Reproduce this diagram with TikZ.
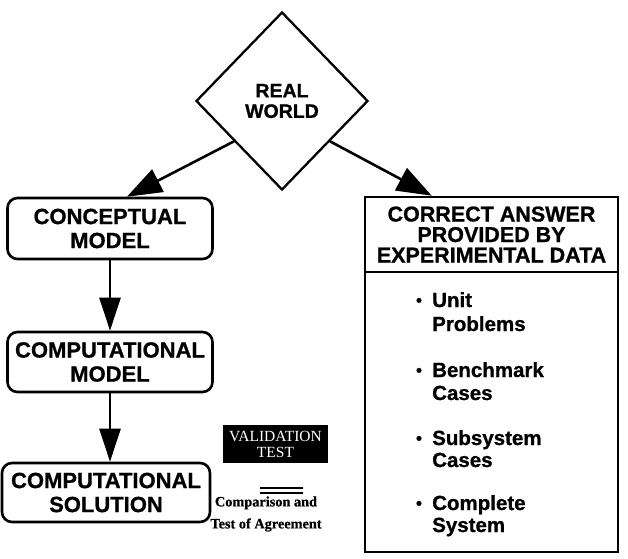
\documentclass[tikz,border=0pt]{standalone}
\usepackage{fontspec}
\setmainfont{Liberation Serif}[BoldFeatures={FakeBold=0.6}]
\setsansfont{Liberation Sans}[BoldFeatures={FakeBold=0.9}]
\usetikzlibrary{arrows.meta,shapes.geometric}
\begin{document}
\begin{tikzpicture}[x=1pt,y=-1pt,
  box/.style={draw, rounded corners=10pt, line width=2.6pt, align=center,
    font=\sffamily\bfseries\fontsize{22}{24}\selectfont, inner sep=0pt},
  sqbox/.style={draw, line width=2.6pt, inner sep=0pt, minimum width=253pt},
  arr/.style={line width=2.6pt, -{Triangle[length=33pt,width=21pt]}},
  darr/.style={line width=2.6pt, -{Triangle[length=35pt,width=25pt]}},
  item/.style={anchor=base west, inner sep=0pt, font=\sffamily\bfseries\fontsize{20.5}{22}\selectfont},
  bul/.style={anchor=base, inner sep=0pt, font=\sffamily\bfseries\fontsize{17}{22}\selectfont}]
\useasboundingbox (0,0) rectangle (628,558);

% Real world diamond
\node[draw, diamond, line width=2.3pt, minimum width=172pt, minimum height=178pt, inner sep=0pt,
  align=center, font=\sffamily\bfseries\fontsize{19.5}{20.5}\selectfont] (rw) at (282,101) {REAL\\WORLD};

% left chain
\node[box, minimum width=205pt, minimum height=61pt] (cm) at (110,228.5) {CONCEPTUAL\\MODEL};
\node[box, minimum width=205pt, minimum height=60pt] (cpm) at (110,362) {COMPUTATIONAL\\MODEL};
\node[box, minimum width=208pt, minimum height=59pt] (cs) at (106,492.5) {COMPUTATIONAL\\SOLUTION};

% right box
\node[sqbox, minimum height=75pt, align=center,
  font=\sffamily\bfseries\fontsize{21.5}{20.5}\selectfont] (hd) at (491.5,234.5)
  {CORRECT ANSWER\\PROVIDED BY\\EXPERIMENTAL DATA};
\node[sqbox, minimum height=280pt] (bd) at (491.5,412) {};

% bullet items
\node[bul] (b1) at (419,306) {•};
\node[item] (t1a) at (432,307) {Unit};
\node[item] (t1b) at (432,331) {Problems};
\node[bul] (b2) at (419,376) {•};
\node[item] (t2a) at (432,377) {Benchmark};
\node[item] (t2b) at (432,400) {Cases};
\node[bul] (b3) at (419,444) {•};
\node[item] (t3a) at (432,445) {Subsystem};
\node[item] (t3b) at (432,467) {Cases};
\node[bul] (b4) at (419,509) {•};
\node[item] (t4a) at (432,510) {Complete};
\node[item] (t4b) at (432,532) {System};

% validation test
\node[fill=black, text=white, minimum width=105pt, minimum height=38pt, inner sep=0pt,
  align=center, font=\rmfamily\fontsize{15.5}{16}\selectfont] (vt) at (275.5,444) {VALIDATION\\TEST};
\draw[line width=2pt] (260,488) -- (303,488);
\draw[line width=2pt] (260,492.5) -- (303,492.5);
\node[align=center, inner sep=0pt, font=\rmfamily\bfseries\fontsize{14.3}{22}\selectfont] (ct) at (266,514)
  {Comparison and\\Test of Agreement};

% connectors
\draw[darr] (rw.220) -- (cm.62);
\draw[darr] (rw.320) -- (hd.147);
\draw[arr] (cm.south) -- (cpm.north);
\draw[arr] (cpm.south) -- (cs.north -| cpm.south);
\end{tikzpicture}
\end{document}
